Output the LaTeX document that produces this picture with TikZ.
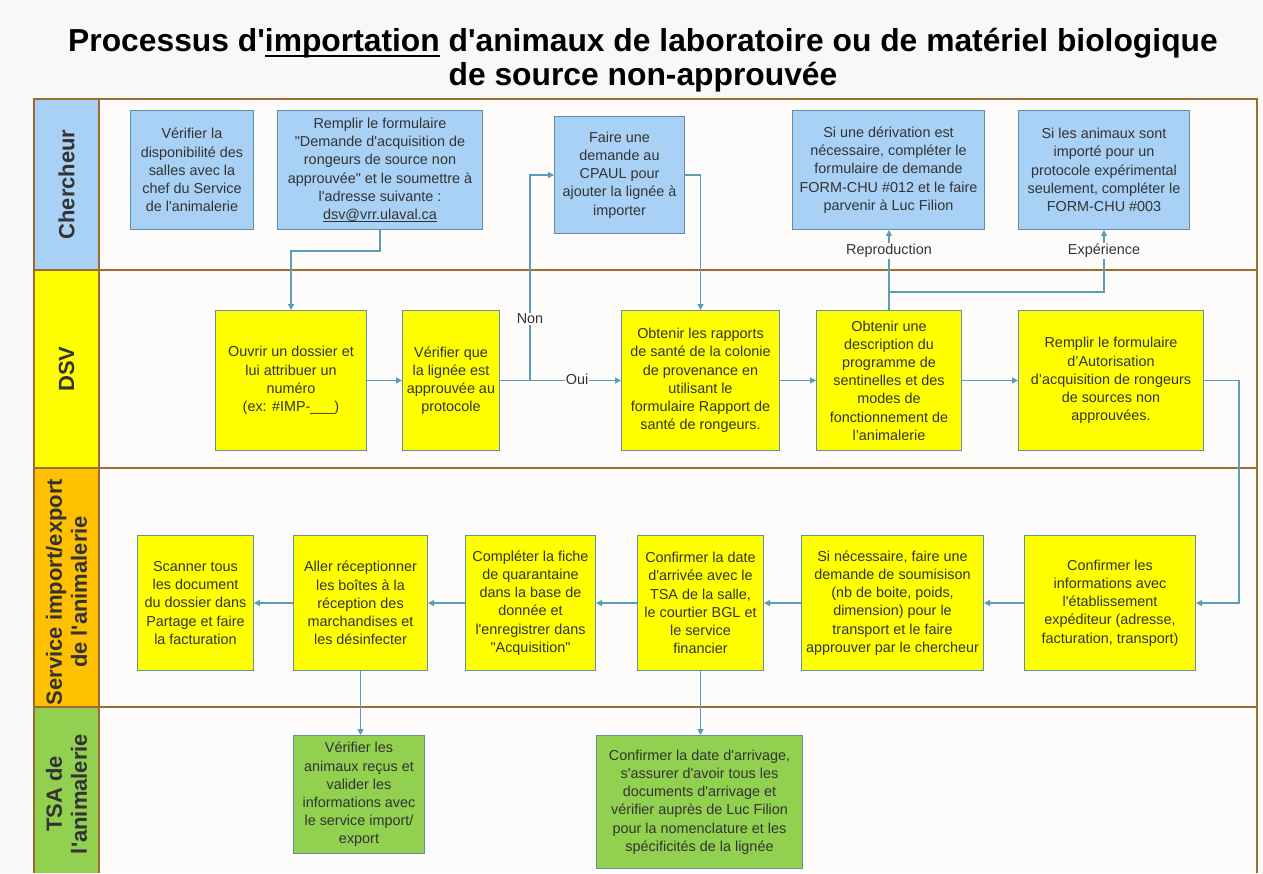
\documentclass[tikz,border=0pt]{standalone}
\usepackage{fontspec}
\setmainfont{Liberation Sans}[Ligatures=TeXOff]
\usetikzlibrary{arrows.meta}
\definecolor{pagebg}{HTML}{F8F8F8}
\definecolor{lanebg}{HTML}{FDFCFB}
\definecolor{lanec}{HTML}{9C6B30}
\definecolor{boxc}{HTML}{5F8FA8}
\definecolor{connc}{HTML}{5A9DB8}
\definecolor{cblue}{HTML}{A9D1F5}
\definecolor{cyellow}{HTML}{FFFF00}
\definecolor{corange}{HTML}{FFC000}
\definecolor{cgreen}{HTML}{92D050}
\definecolor{txtc}{HTML}{333333}
\newcommand\bxfont{\fontsize{14.4}{18.2}\selectfont}
\newcommand\hdfont{\fontsize{22}{25}\selectfont\bfseries}
\newcommand\myul[3]{\leavevmode\setbox0\hbox{#3}\rlap{\rule[-#1]{\wd0}{#2}}\box0\relax}
\begin{document}
\begin{tikzpicture}[x=1pt,y=-1pt,
  bbox/.style={draw=boxc, line width=1pt, inner sep=0pt, align=center, font=\bxfont, text=txtc, anchor=north west},
  bluebox/.style={bbox, fill=cblue},
  yelbox/.style={bbox, fill=cyellow},
  grnbox/.style={bbox, fill=cgreen},
  conn/.style={draw=connc, line width=1.2pt, -{Triangle[length=6pt,width=6pt]}},
  lab/.style={font=\bxfont, text=txtc, fill=lanebg, inner sep=1pt},
  hdr/.style={font=\hdfont, text=txtc, align=center, rotate=90},
  lanebox/.style={draw=lanec, line width=1.4pt}
]
\useasboundingbox (0,0) rectangle (1263,873);
\fill[pagebg] (0,0) rectangle (1263,873);
% title
\node[font=\fontsize{31.8}{34}\selectfont\bfseries, text=black, align=center] (title) at (643,60.5)
  {Processus d'\myul{5pt}{2.2pt}{importation} d'animaux de laboratoire ou de matériel biologique\\de source non-approuvée};
% lanes
\fill[lanebg] (99,99) rectangle (1257,873);
\fill[cblue] (34,99) rectangle (99,270);
\fill[cyellow] (34,270) rectangle (99,468);
\fill[corange] (34,468) rectangle (99,707);
\fill[cgreen] (34,707) rectangle (99,873);
\draw[lanebox] (34,873) -- (34,99) -- (1257,99) -- (1257,873);
\draw[lanebox] (99,99) -- (99,873);
\draw[lanebox] (34,270) -- (1257,270);
\draw[lanebox] (34,468) -- (1257,468);
\draw[lanebox] (34,707) -- (1257,707);
\node[hdr] (hch) at (66.5,184.5) {Chercheur};
\node[hdr] (hdsv) at (66.5,369) {DSV};
\node[hdr] (hsrv) at (66.5,592) {Service import/export\\de l'animalerie};
\node[hdr] (htsa) at (66.5,794) {TSA de\\l'animalerie};
% Chercheur boxes
\node[bluebox, minimum width=123, minimum height=119] (b1) at (130,110)
  {Vérifier la\\disponibilité des\\salles avec la\\chef du Service\\de l'animalerie};
\node[bluebox, minimum width=205, minimum height=119] (b2) at (277,110)
  {Remplir le formulaire\\"Demande d'acquisition de\\rongeurs de source non\\approuvée" et le soumettre à\\l'adresse suivante :\\\myul{2.6pt}{0.9pt}{dsv@vrr.ulaval.ca}};
\node[bluebox, minimum width=130, minimum height=117] (b3) at (554,116)
  {Faire une\\demande au\\CPAUL pour\\ajouter la lignée à\\importer};
\node[bluebox, minimum width=192, minimum height=119] (b4) at (792,110)
  {Si une dérivation est\\nécessaire, compléter le\\formulaire de demande\\FORM-CHU \#012 et le faire\\parvenir à Luc Filion};
\node[bluebox, minimum width=171, minimum height=119] (b5) at (1018,110)
  {Si les animaux sont\\importé pour un\\protocole expérimental\\seulement, compléter le\\FORM-CHU \#003};
% DSV boxes
\node[yelbox, minimum width=151, minimum height=140] (d1) at (215,310)
  {Ouvrir un dossier et\\lui attribuer un\\numéro\\(ex: \#IMP-\_\_\_)};
\node[yelbox, minimum width=97, minimum height=140] (d2) at (402,310)
  {Vérifier que\\la lignée est\\approuvée au\\protocole};
\node[yelbox, minimum width=158, minimum height=140] (d3) at (621,310)
  {Obtenir les rapports\\de santé de la colonie\\de provenance en\\utilisant le\\formulaire Rapport de\\santé de rongeurs.};
\node[yelbox, minimum width=145, minimum height=140] (d4) at (816,310)
  {Obtenir une\\description du\\programme de\\sentinelles et des\\modes de\\fonctionnement de\\l’animalerie};
\node[yelbox, minimum width=185, minimum height=140] (d5) at (1018,310)
  {Remplir le formulaire\\d’Autorisation\\d’acquisition de rongeurs\\de sources non\\approuvées.};
% Service boxes
\node[yelbox, minimum width=116, minimum height=135] (s1) at (137,535)
  {Scanner tous\\les document\\du dossier dans\\Partage et faire\\la facturation};
\node[yelbox, minimum width=134, minimum height=135] (s2) at (293,535)
  {Aller réceptionner\\les boîtes à la\\réception des\\marchandises et\\les désinfecter};
\node[yelbox, minimum width=130, minimum height=135] (s3) at (465,535)
  {Compléter la fiche\\de quarantaine\\dans la base de\\donnée et\\l'enregistrer dans\\"Acquisition"};
\node[yelbox, minimum width=126, minimum height=135] (s4) at (637,535)
  {Confirmer la date\\d'arrivée avec le\\TSA de la salle,\\le courtier BGL et\\le service\\financier};
\node[yelbox, minimum width=182, minimum height=135] (s5) at (801,535)
  {Si nécessaire, faire une\\demande de soumisison\\(nb de boite, poids,\\dimension) pour le\\transport et le faire\\approuver par le chercheur};
\node[yelbox, minimum width=171, minimum height=135] (s6) at (1024,535)
  {Confirmer les\\informations avec\\l'établissement\\expéditeur (adresse,\\facturation, transport)};
% TSA boxes
\node[grnbox, minimum width=131, minimum height=118] (t1) at (293,735)
  {Vérifier les\\animaux reçus et\\valider les\\informations avec\\le service import/\\export};
\node[grnbox, minimum width=206, minimum height=133] (t2) at (596,735)
  {Confirmer la date d'arrivage,\\s'assurer d'avoir tous les\\documents d'arrivage et\\vérifier auprès de Luc Filion\\pour la nomenclature et les\\spécificités de la lignée};
% helper coordinates
\coordinate (jn) at (530,380);
\coordinate (ky) at (0,292);
\coordinate (kx) at (1239,0);
\coordinate (ly) at (0,251);
% connectors
\draw[conn] (b2.south) -- ++(0,21) -| (d1.north);
\draw[conn] (d1.east) -- (d2.west);
\draw[conn] (d2.east) -- (d3.west);
\draw[conn] (jn) |- (b3.west);
\draw[conn] (b3.east) -| (d3.north);
\draw[conn] (d3.east) -- (d4.west);
\draw[conn] (d4.north) -- (d4.north |- b4.south);
\draw[conn] (d4.north |- ky) -| (b5.south);
\draw[conn] (d4.east) -- (d5.west);
\draw[conn] (d5.east) -- (d5.east -| kx) |- (s6.east);
\draw[conn] (s6.west) -- (s5.east);
\draw[conn] (s5.west) -- (s4.east);
\draw[conn] (s4.west) -- (s3.east);
\draw[conn] (s3.west) -- (s2.east);
\draw[conn] (s2.west) -- (s1.east);
\draw[conn] (s2.south) -- (s2.south |- t1.north);
\draw[conn] (s4.south) -- (s4.south |- t2.north);
% labels
\node[lab] (lnon) at (530,319) {Non};
\node[lab] (loui) at (577,379) {Oui};
\node[lab] (lrep) at (d4.north |- ly) {Reproduction};
\node[lab] (lexp) at (b5.south |- ly) {Expérience};
\end{tikzpicture}
\end{document}
